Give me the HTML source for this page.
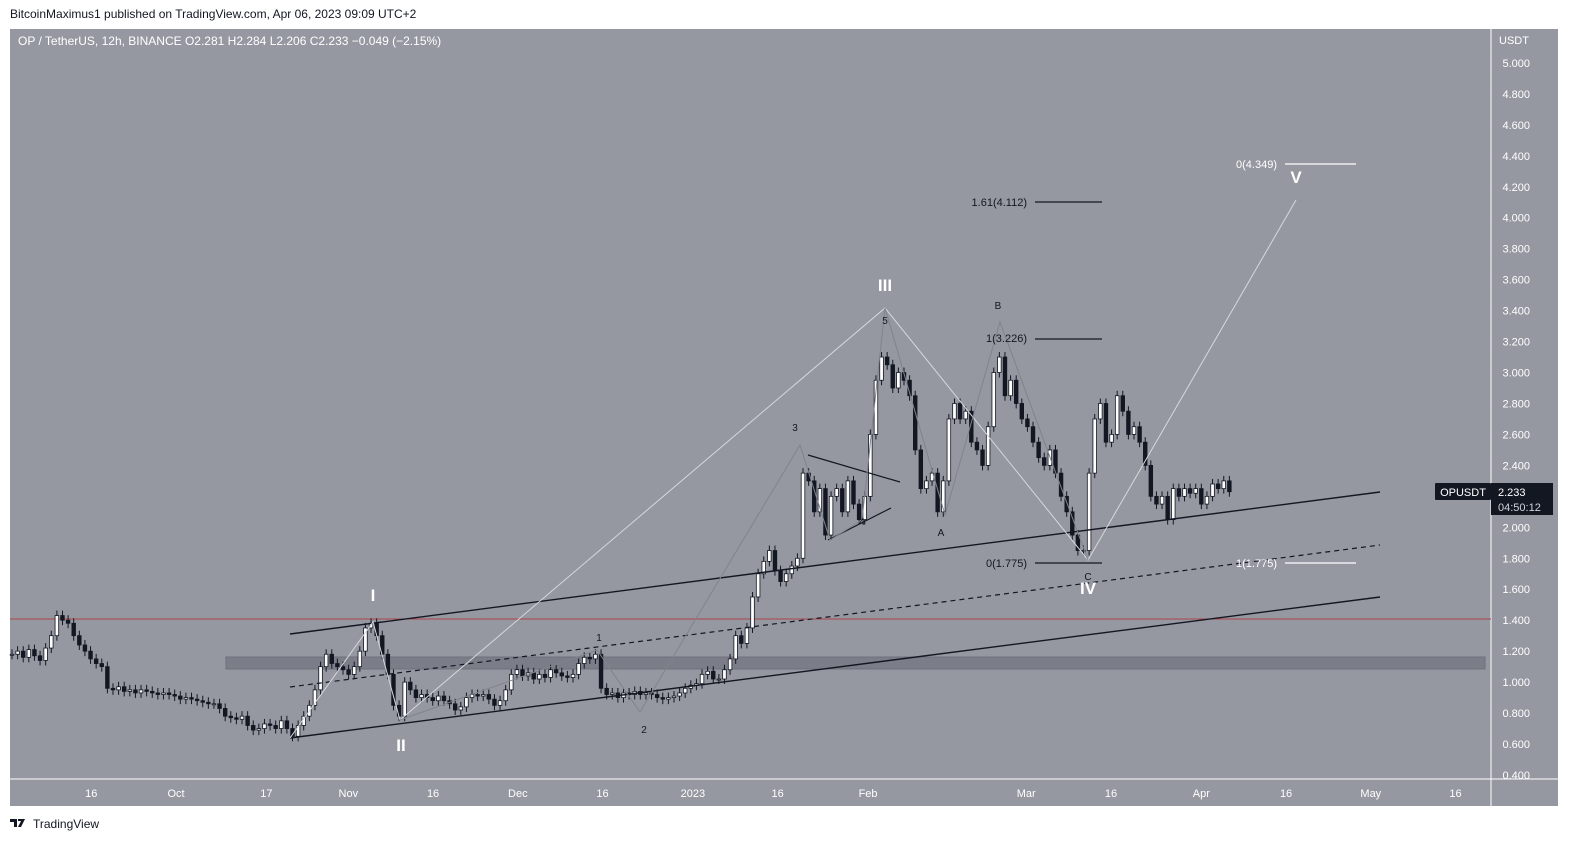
<!DOCTYPE html>
<html><head><meta charset="utf-8"><style>
body{margin:0;background:#fff;width:1576px;height:845px;overflow:hidden;font-family:"Liberation Sans",sans-serif}
svg{position:absolute;left:0;top:0}
</style></head><body>
<svg width="1576" height="845">
<script>
const closes=[1.18,1.20,1.16,1.21,1.17,1.14,1.22,1.30,1.43,1.40,1.38,1.30,1.24,1.20,1.15,1.12,1.10,0.96,0.95,0.97,0.94,0.95,0.93,0.95,0.94,0.93,0.92,0.93,0.92,0.91,0.89,0.90,0.89,0.88,0.87,0.86,0.86,0.83,0.78,0.77,0.76,0.78,0.72,0.69,0.70,0.73,0.72,0.70,0.75,0.70,0.65,0.72,0.78,0.85,0.95,1.10,1.18,1.12,1.10,1.08,1.05,1.10,1.20,1.35,1.38,1.30,1.18,1.05,0.85,0.78,1.00,0.95,0.90,0.92,0.90,0.88,0.91,0.88,0.86,0.82,0.84,0.90,0.92,0.91,0.92,0.89,0.85,0.88,0.95,1.05,1.08,1.04,1.06,1.02,1.05,1.03,1.08,1.06,1.04,1.03,1.05,1.12,1.16,1.15,1.18,0.96,0.92,0.93,0.90,0.93,0.92,0.94,0.92,0.93,0.92,0.90,0.89,0.90,0.91,0.93,0.96,0.98,0.99,1.05,1.07,1.02,1.02,1.08,1.15,1.30,1.25,1.35,1.55,1.70,1.78,1.85,1.72,1.65,1.70,1.75,1.80,2.35,2.30,2.10,2.25,1.95,2.20,2.25,2.10,2.30,2.15,2.05,2.20,2.60,2.95,3.10,3.05,2.90,3.00,2.95,2.85,2.50,2.25,2.30,2.35,2.10,2.30,2.70,2.80,2.70,2.75,2.55,2.50,2.40,2.65,3.00,3.10,2.85,2.95,2.80,2.70,2.65,2.55,2.45,2.40,2.50,2.35,2.20,2.10,1.95,1.85,1.85,2.35,2.70,2.80,2.55,2.60,2.85,2.75,2.60,2.65,2.55,2.40,2.20,2.15,2.20,2.05,2.25,2.20,2.25,2.22,2.25,2.15,2.20,2.28,2.25,2.30,2.23];
const priceTicks=[5.0,4.8,4.6,4.4,4.2,4.0,3.8,3.6,3.4,3.2,3.0,2.8,2.6,2.4,2.2,2.0,1.8,1.6,1.4,1.2,1.0,0.8,0.6,0.4];
const dateLabels=["16","Oct","17","Nov","16","Dec","16","2023","16","Feb","Mar","16","Apr","16","May","16"];
const dateDays=[14.5,29.5,45.5,60,75,90,105,121,136,152,180,195,211,226,241,256];
</script>
</svg>
<script>
const NS="http://www.w3.org/2000/svg";
const svg=document.querySelector('svg');
const y=v=>775-(v-0.4)/0.2*30.96;
const x=d=>12+d*5.61;
const xt=d=>9.4+d*5.649;
function mk(t,a,p){const e=document.createElementNS(NS,t);for(const k in a)e.setAttribute(k,a[k]);(p||svg).appendChild(e);return e;}
function txt(s,a){const e=mk('text',a);e.textContent=s;return e;}
let r=mk('rect',{x:10,y:29,width:1548,height:777,fill:'#9598a1'});

mk('line',{x1:1491,y1:29,x2:1491,y2:806,stroke:'#fff','stroke-width':1});
mk('line',{x1:10,y1:779,x2:1558,y2:779,stroke:'#fff','stroke-width':1});
let b=mk('rect',{x:226,y:657,width:1259,height:12,fill:'#7b7e88',stroke:'#6e717b','stroke-width':1});

let rl=mk('line',{x1:10,y1:619,x2:1491,y2:619,stroke:'#b0454a','stroke-width':1});

const g=mk('g',{});

closes.forEach((c,i)=>{
  const o=i?closes[i-1]:c;const cx=x(i);
  const top=y(Math.max(o,c)),bot=y(Math.min(o,c));
  const up=c>=o;
  mk('line',{x1:cx,y1:top-5,x2:cx,y2:bot+5,stroke:'#131722','stroke-width':1},g);
  const k=mk('rect',{x:cx-1.8,y:top,width:3.6,height:Math.max(1,bot-top),fill:up?'#fff':'#131722',stroke:'#131722','stroke-width':0.8},g);
  
  
});
function ln(x1,y1,x2,y2,st,w,name,dash){const l=mk('line',{x1,y1,x2,y2,stroke:st,'stroke-width':w});if(dash)l.setAttribute('stroke-dasharray',dash);return l;}
ln(290,634,1380,492,'#131722',1.4,'channel-upper');
ln(290,687,1380,545,'#131722',1.2,'channel-middle','5,4');
ln(290,738,1380,597,'#131722',1.4,'channel-lower');
ln(808,455,900,482,'#131722',1.2,'triangle-upper');
ln(828,540,891,508,'#131722',1.2,'triangle-lower');
let p1=mk('polyline',{points:'290,738 373,622 400,720 885,308 1088,560 1296,200',fill:'none',stroke:'#d6d8dc','stroke-width':1});

let p2=mk('polyline',{points:'400,720 597,650 640,712 800,445 830,540 862,520 885,308 945,515 1000,322 1088,560',fill:'none',stroke:'#80838c','stroke-width':1});

ln(1035,202,1102,202,'#131722',1.2,'fib-1.61');
ln(1035,339,1102,339,'#131722',1.2,'fib-1');
ln(1035,563,1102,563,'#131722',1.2,'fib-0');
ln(1285,164,1356,164,'#fff',1.2,'fib-target');
ln(1285,563,1356,563,'#fff',1.2,'fib-target-base');
function lab(s,X,Y,fill,size,weight,name,anchor){const t=txt(s,{x:X,y:Y,fill,'font-size':size,'font-weight':weight||'normal','text-anchor':anchor||'middle'});return t;}
lab('1.61(4.112)',1027,206,'#131722',11,'normal','fib-label-161','end');
lab('1(3.226)',1027,342,'#131722',11,'normal','fib-label-1','end');
lab('0(1.775)',1027,567,'#131722',11,'normal','fib-label-0','end');
lab('0(4.349)',1277,168,'#fff',11,'normal','fib-label-target','end');
lab('1(1.775)',1277,567,'#fff',11,'normal','fib-label-target-base','end');
[['I',373,601],['II',401,751],['III',885,291],['IV',1088,594],['V',1296,183]].forEach(a=>lab(a[0],a[1],a[2],'#fff',17,'bold','wave-'+a[0]));
[['1',599,641],['2',644,733],['3',795,431],['4',862,525],['5',885,324],['A',941,536],['B',998,309],['C',1088,580]].forEach(a=>lab(a[0],a[1],a[2],'#131722',10,'normal','subwave-'+a[0]));
priceTicks.forEach(v=>{const t=txt(v.toFixed(3),{x:1530,y:y(v)+4,fill:'#fff','font-size':11,'text-anchor':'end'});});
lab('USDT',1514,44,'#fff',11,'normal','axis-currency');
dateLabels.forEach((s,i)=>{const t=txt(s,{x:xt(dateDays[i]),y:797,fill:'#fff','font-size':11,'text-anchor':'middle'});});
let tg=mk('rect',{x:1435,y:483,width:56,height:17,fill:'#131722',rx:1});

lab('OPUSDT',1463,496,'#fff',11,'normal','symbol-tag-text');
let pt=mk('rect',{x:1491,y:483,width:62,height:32,fill:'#131722'});

lab('2.233',1498,496,'#fff',11,'normal','price-tag-value','start');
lab('04:50:12',1498,511,'#d1d4dc',11,'normal','price-tag-countdown','start');
lab('BitcoinMaximus1 published on TradingView.com, Apr 06, 2023 09:09 UTC+2',10,18,'#131722',12,'normal','publish-info','start');
lab('OP / TetherUS, 12h, BINANCE  O2.281  H2.284  L2.206  C2.233  −0.049 (−2.15%)',18,45,'#fff',12,'normal','ohlc-legend','start').setAttribute('xml:space','preserve');
lab('TradingView',33,828,'#131722',12,'normal','tradingview-brand','start');
let lg=mk('path',{d:'M10 819h7v8h-3v-5h-4zM18 819h7l-4 8h-3l3-6h-3z',fill:'#131722'});

</script>
</body></html>
